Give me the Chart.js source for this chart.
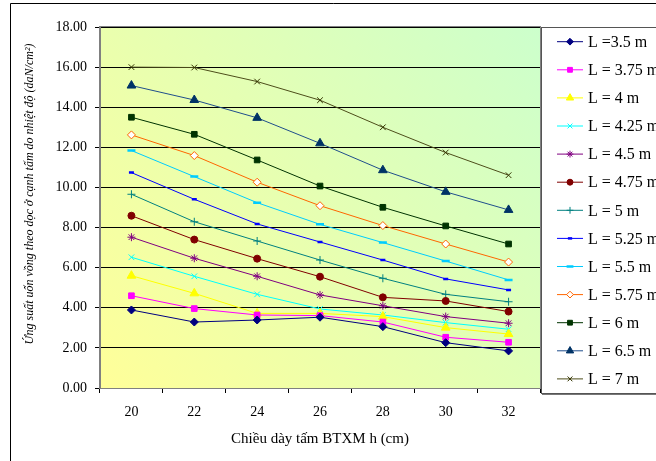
<!DOCTYPE html>
<html>
<head>
<meta charset="utf-8">
<script src="https://cdn.jsdelivr.net/npm/chart.js@4.4.0/dist/chart.umd.min.js"></script>
<style>
  html, body { margin: 0; padding: 0; background: #fff; }
  #wrap { width: 656px; height: 461px; position: relative; }
</style>
</head>
<body>
<div id="wrap"><canvas id="stress_chart"></canvas></div>
<script>
// chieu day tam (cm)
var thickness = ['20', '22', '24', '26', '28', '30', '32'];
var yTicks = [0, 2, 4, 6, 8, 10, 12, 14, 16, 18];

// ung suat theo tung chieu dai L (daN/cm2)
var L350 = [3.89, 3.29, 3.39, 3.53, 3.06, 2.26, 1.85];
var L375 = [4.60, 3.96, 3.64, 3.61, 3.29, 2.53, 2.28];
var L400 = [5.60, 4.72, 3.72, 3.72, 3.56, 3.01, 2.69];
var L425 = [6.52, 5.57, 4.67, 3.94, 3.64, 3.26, 2.93];
var L450 = [7.52, 6.47, 5.57, 4.64, 4.10, 3.56, 3.23];
var L475 = [8.59, 7.40, 6.45, 5.55, 4.52, 4.34, 3.81];
var L500 = [9.66, 8.29, 7.33, 6.38, 5.47, 4.67, 4.30];
var L525 = [10.74, 9.41, 8.18, 7.28, 6.38, 5.44, 4.89];
var L550 = [11.84, 10.54, 9.24, 8.16, 7.25, 6.33, 5.39];
var L575 = [12.62, 11.59, 10.26, 9.09, 8.10, 7.18, 6.28];
var L600 = [13.50, 12.65, 11.37, 10.07, 9.01, 8.08, 7.18];
var L650 = [15.08, 14.36, 13.47, 12.20, 10.86, 9.78, 8.88];
var L700 = [16.00, 15.98, 15.28, 14.35, 13.00, 11.74, 10.61];

var seriesNames = ['L =3.5 m', 'L = 3.75 m', 'L = 4 m', 'L = 4.25 m', 'L = 4.5 m', 'L = 4.75 m',
                   'L = 5 m', 'L = 5.25 m', 'L = 5.5 m', 'L = 5.75 m', 'L = 6 m', 'L = 6.5 m', 'L = 7 m'];
var seriesData = [L350, L375, L400, L425, L450, L475, L500, L525, L550, L575, L600, L650, L700];

var xTitle = 'Chiều dày tấm BTXM h (cm)';
var yTitle = 'Ứng suất uốn vồng theo dọc ở cạnh tấm do nhiệt độ (daN/cm²)';

// marker styles (Excel-like)
var styles = [
    { color: '#000080', point: 'rectRot', r: 4, fill: '#000080', bw: 1 },
    { color: '#FF00FF', point: 'rect', r: 4, fill: '#FF00FF', bw: 1 },
    { color: '#FFFF00', point: 'triangle', r: 5, fill: '#FFFF00', bw: 1 },
    { color: '#00FFFF', point: 'crossRot', r: 4, fill: '#00FFFF', bw: 1 },
    { color: '#800080', point: 'star', r: 4, fill: '#800080', bw: 1 },
    { color: '#800000', point: 'circle', r: 3.5, fill: '#800000', bw: 1 },
    { color: '#008080', point: 'cross', r: 4, fill: '#008080', bw: 1 },
    { color: '#0000FF', point: 'line', r: 2.5, fill: '#0000FF', bw: 2.5 },
    { color: '#00CCFF', point: 'line', r: 4, fill: '#00CCFF', bw: 2.5 },
    { color: '#FF6600', point: 'rectRot', r: 4, fill: '#FFFFFF', bw: 1 },
    { color: '#003300', point: 'rect', r: 4, fill: '#003300', bw: 1 },
    { color: '#1F4E8C', point: 'triangle', r: 5, fill: '#003366', bw: 1 },
    { color: '#4D4D1A', point: 'crossRot', r: 4, fill: '#333300', bw: 1 }
];

var datasets = seriesData.map(function(d, i){
    var s = styles[i];
    return {
        label: seriesNames[i],
        data: d,
        borderColor: s.color,
        borderWidth: 1,
        backgroundColor: s.fill,
        pointStyle: s.point,
        pointRadius: s.r,
        pointBorderColor: i === 9 ? s.color : (s.point === 'line' ? s.color : s.fill),
        pointBorderWidth: s.bw,
        pointBackgroundColor: s.fill,
        tension: 0
    };
});

// plot background, border, frame, y title and legend
var excelLook = {
    id: 'excelLook',
    beforeDraw: function(chart){
        var ctx = chart.ctx, a = chart.chartArea;
        ctx.save();
        var g = ctx.createLinearGradient(a.left, a.bottom, a.right, a.top);
        g.addColorStop(0, '#FFFF99');
        g.addColorStop(1, '#CCFFCC');
        ctx.fillStyle = g;
        ctx.fillRect(a.left, a.top, a.right - a.left, a.bottom - a.top);
        // outer frame
        ctx.strokeStyle = '#000';
        ctx.lineWidth = 1;
        ctx.beginPath();
        ctx.moveTo(10.5, 470);
        ctx.lineTo(10.5, 3.5);
        ctx.lineTo(700, 3.5);
        ctx.stroke();
        ctx.restore();
    },
    beforeDatasetsDraw: function(chart){
        var ctx = chart.ctx, a = chart.chartArea;
        ctx.save();
        ctx.strokeStyle = '#808080';
        ctx.lineWidth = 1;
        ctx.strokeRect(a.left - 0.5, a.top - 0.5, a.right - a.left + 1, a.bottom - a.top + 1);
        ctx.restore();
    },
    afterDraw: function(chart){
        var ctx = chart.ctx;
        ctx.save();
        // y title
        ctx.translate(29.5, 194);
        ctx.rotate(-Math.PI / 2);
        ctx.font = 'italic 12px "Liberation Serif"';
        ctx.fillStyle = '#000';
        ctx.textAlign = 'center';
        ctx.textBaseline = 'middle';
        ctx.fillText(yTitle, 0, 0);
        ctx.restore();

        // legend box
        ctx.save();
        ctx.fillStyle = '#fff';
        ctx.fillRect(541, 27, 130, 366);
        ctx.strokeStyle = '#555';
        ctx.lineWidth = 1;
        ctx.strokeRect(541.5, 27.5, 130, 366);
        ctx.strokeStyle = '#777';
        ctx.beginPath();
        ctx.moveTo(542, 394.5);
        ctx.lineTo(700, 394.5);
        ctx.stroke();

        var y0 = 41.7, step = 28.1;
        chart.data.datasets.forEach(function(ds, i){
            var y = y0 + i * step;
            ctx.strokeStyle = ds.borderColor;
            ctx.lineWidth = 1;
            ctx.beginPath();
            ctx.moveTo(557, y);
            ctx.lineTo(583, y);
            ctx.stroke();
            ctx.fillStyle = ds.pointBackgroundColor;
            ctx.strokeStyle = ds.pointBorderColor;
            ctx.lineWidth = ds.pointBorderWidth;
            Chart.helpers.drawPoint(ctx, {
                pointStyle: ds.pointStyle,
                radius: ds.pointRadius * 0.85,
                rotation: 0,
                borderWidth: ds.pointBorderWidth
            }, 570, y);
            ctx.fillStyle = '#000';
            ctx.font = '16px "Liberation Serif"';
            ctx.textAlign = 'left';
            ctx.textBaseline = 'middle';
            ctx.fillText(ds.label, 588, y + 1);
        });
        ctx.restore();
    }
};

var stress_chart = document.getElementById('stress_chart').getContext('2d');
new Chart(stress_chart, {
    type: 'line',
    data: {
        labels: thickness,
        datasets: datasets
    },
    plugins: [excelLook],
    options: {
        responsive: true,
        maintainAspectRatio: false,
        animation: false,
        layout: { padding: { left: 10, top: 27, right: 116, bottom: 0 } },
        plugins: {
            legend: { display: false },
            tooltip: { enabled: false }
        },
        scales: {
            x: {
                offset: true,
                afterFit: function(scale){ scale.height = 73; },
                grid: {
                    offset: true,
                    drawOnChartArea: false,
                    drawTicks: true,
                    tickLength: 5,
                    color: '#000'
                },
                border: { color: '#808080' },
                ticks: {
                    color: '#000',
                    padding: 11,
                    font: { family: 'Liberation Serif', size: 14 }
                },
                title: {
                    display: true,
                    text: xTitle,
                    color: '#000',
                    font: { family: 'Liberation Serif', size: 15 },
                    padding: { top: 0, bottom: 13 }
                }
            },
            y: {
                min: 0,
                max: 18,
                afterFit: function(scale){ scale.width = 90; },
                afterBuildTicks: function(scale){
                    scale.ticks = yTicks.map(function(v){ return { value: v }; });
                },
                grid: {
                    color: '#000',
                    tickLength: 5,
                    drawTicks: true
                },
                border: { color: '#808080' },
                ticks: {
                    color: '#000',
                    padding: 8,
                    font: { family: 'Liberation Serif', size: 14 },
                    callback: function(v){ return Number(v).toFixed(2); }
                }
            }
        }
    }
});
</script>
</body>
</html>
